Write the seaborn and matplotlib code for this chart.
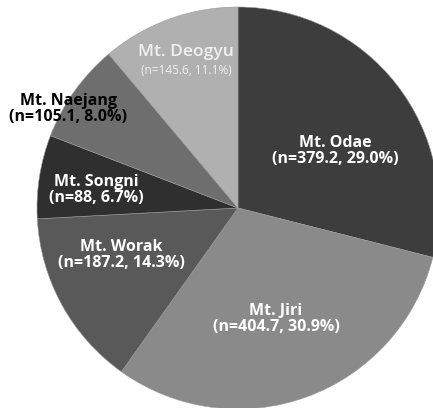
import matplotlib
matplotlib.use("Agg")
import matplotlib.pyplot as plt
import seaborn as sns

sns.set_theme(style="white")
plt.rcParams['font.family'] = ['Open Sans', 'DejaVu Sans']

names = ["Mt. Odae", "Mt. Jiri", "Mt. Worak", "Mt. Songni", "Mt. Naejang", "Mt. Deogyu"]
values = [379.2, 404.7, 187.2, 88, 105.1, 145.6]
pct_labels = ["29.0%", "30.9%", "14.3%", "6.7%", "8.0%", "11.1%"]
n_labels = ["379.2", "404.7", "187.2", "88", "105.1", "145.6"]
colors = ["#3d3d3d", "#8a8a8a", "#595959", "#2f2f2f", "#6e6e6e", "#b0b0b0"]

W, H = 433, 408
cx, cy, R = 238, 208, 201

fig = plt.figure(figsize=(W / 100, H / 100), dpi=100)
ax = fig.add_axes([0, 0, 1, 1])
ax.pie(values, colors=colors, startangle=90, counterclock=False, radius=1,
       wedgeprops=dict(linewidth=0.4, edgecolor="#9a9a9a"))
ax.set_xlim(-cx / R, (W - cx) / R)
ax.set_ylim(-(H - cy) / R, cy / R)
ax.set_aspect("auto")
ax.axis("off")

# label positions in pixel coordinates (center of two-line block)
label_px = [(335, 151), (276, 319), (121, 255), (96, 190), (68, 109), (186, 60)]
text_colors = ["white", "white", "white", "white", "black", "#f0f0f0"]

for i, (nm, nv, pc) in enumerate(zip(names, n_labels, pct_labels)):
    px, py = label_px[i]
    x = (px - cx) / R
    y = (cy - py) / R
    if nm == "Mt. Deogyu":
        ax.text(x, y + 8 / R, nm, ha="center", va="center", color=text_colors[i],
                fontsize=12.5, fontweight="semibold")
        ax.text(x, y - 10 / R, f"(n={nv}, {pc})", ha="center", va="center",
                color=text_colors[i], fontsize=8.5)
    else:
        ax.text(x, y, f"{nm}\n(n={nv}, {pc})", ha="center", va="center",
                color=text_colors[i], fontsize=11.5, fontweight="bold",
                linespacing=1.0)

fig.savefig("out.png", dpi=100)
